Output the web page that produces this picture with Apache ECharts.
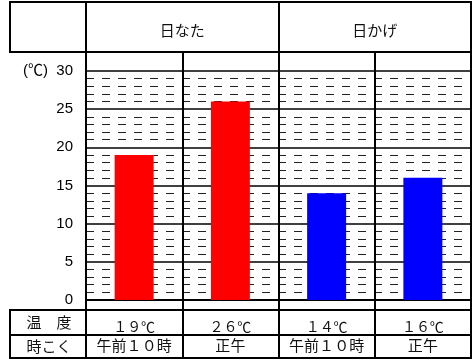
<!DOCTYPE html>
<html>
<head>
<meta charset="utf-8">
<script src="https://cdn.jsdelivr.net/npm/echarts@6/dist/echarts.min.js"></script>
<style>html,body{margin:0;padding:0;background:#fff}#chart{width:472px;height:360px}</style>
</head>
<body>
<div id="chart"></div>
<script>
// data
const groups = ['日なた', '日かげ'];
const columnGroup = [0, 0, 1, 1];
const times = ['午前１０時', '正午', '午前１０時', '正午'];
const temps = [19, 26, 14, 16];
const rowLabels = ['温　度', '時こく'];

const groupColors = { '日なた': '#ff0000', '日かげ': '#0000ff' };
const cjk = "'Noto Sans CJK JP', sans-serif";
const tableLine = { color: '#000', width: 2 };

// full-width digits like the printed sheet
function wide(s) {
  return s.replace(/[0-9]/g, function (c) {
    return String.fromCharCode(c.charCodeAt(0) + 0xFEE0);
  });
}
const tempLabels = temps.map(function (t) { return wide(String(t)) + '℃'; });

function hiddenAxis(grid) {
  return { gridIndex: grid, type: 'value', show: false };
}
function cellLabel(margin, size) {
  return { inside: true, interval: 0, margin: margin, verticalAlign: 'middle', align: 'center',
    fontFamily: cjk, fontSize: size || 15, color: '#111' };
}

const chart = echarts.init(document.getElementById('chart'));
chart.setOption({
  animation: false,
  grid: [
    { left: 10, right: 1, top: 2, height: 50, show: true, borderColor: '#000', borderWidth: 2 },
    { left: 10, right: 1, top: 310, height: 25, show: true, borderColor: '#000', borderWidth: 2 },
    { left: 10, right: 1, top: 335, bottom: 2, show: true, borderColor: '#000', borderWidth: 2 },
    { left: 86, right: 1, top: 2, bottom: 2, show: true, borderColor: '#000', borderWidth: 2 },
    { left: 86, right: 1, top: 52, bottom: 2 },
    { left: 86, right: 1, top: 71, bottom: 60 }
  ],
  xAxis: [
    hiddenAxis(0),
    hiddenAxis(1),
    hiddenAxis(2),
    {
      gridIndex: 3, type: 'category', position: 'top', data: groups,
      axisLine: { show: false }, axisTick: { show: false },
      axisLabel: cellLabel(28),
      splitLine: { show: true, interval: 0, lineStyle: tableLine }
    },
    {
      gridIndex: 4, type: 'category', position: 'bottom', data: times,
      axisLine: { show: false }, axisTick: { show: false },
      axisLabel: cellLabel(13),
      splitLine: { show: true, interval: 0, lineStyle: tableLine }
    },
    {
      gridIndex: 4, type: 'category', position: 'bottom', offset: -23, data: tempLabels,
      axisLine: { show: false }, axisTick: { show: false },
      axisLabel: cellLabel(8, 14)
    },
    {
      gridIndex: 5, type: 'category', data: tempLabels,
      axisLine: { lineStyle: tableLine }, axisTick: { show: false },
      axisLabel: { show: false }
    }
  ],
  yAxis: [
    hiddenAxis(0),
    {
      gridIndex: 1, type: 'category', data: [rowLabels[0]],
      axisLine: { show: false }, axisTick: { show: false },
      axisLabel: cellLabel(39)
    },
    {
      gridIndex: 2, type: 'category', data: [rowLabels[1]],
      axisLine: { show: false }, axisTick: { show: false },
      axisLabel: cellLabel(39)
    },
    hiddenAxis(3),
    hiddenAxis(4),
    {
      gridIndex: 5, type: 'value', min: 0, max: 30, interval: 5,
      axisLine: { show: false }, axisTick: { show: false },
      axisLabel: {
        margin: 13, fontSize: 15, color: '#000',
        fontFamily: "'Liberation Sans', 'Noto Sans CJK JP', sans-serif",
        formatter: function (v) { return v === 30 ? '(℃)  30' : String(v); }
      },
      splitLine: { lineStyle: { color: '#000', width: 1.5 } },
      minorTick: { show: false, splitNumber: 5 },
      minorSplitLine: { show: true, lineStyle: { color: '#222', width: 1, type: [8, 8] } }
    }
  ],
  series: [{
    type: 'bar',
    xAxisIndex: 6,
    yAxisIndex: 5,
    barWidth: 39,
    data: temps.map(function (v, i) {
      return { value: v, itemStyle: { color: groupColors[groups[columnGroup[i]]] } };
    })
  }]
});
</script>
</body>
</html>
